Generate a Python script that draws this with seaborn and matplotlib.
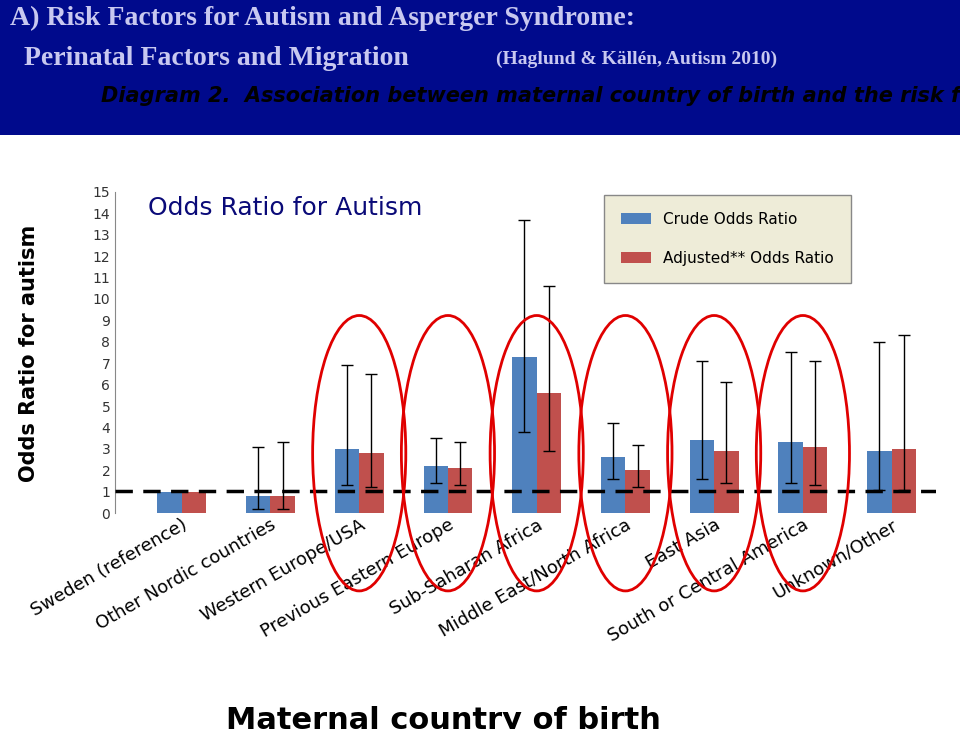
import matplotlib
matplotlib.use("Agg")
import matplotlib.pyplot as plt
import seaborn as sns
import pandas as pd
from matplotlib.patches import Ellipse, Rectangle

categories = ["Sweden (reference)", "Other Nordic countries", "Western Europe/USA",
              "Previous Eastern Europe", "Sub-Saharan Africa", "Middle East/North Africa",
              "East Asia", "South or Central America", "Unknown/Other"]
crude = [1.0, 0.8, 3.0, 2.2, 7.3, 2.6, 3.4, 3.3, 2.9]
crude_lo = [1.0, 0.2, 1.3, 1.4, 3.8, 1.6, 1.6, 1.4, 1.1]
crude_hi = [1.0, 3.1, 6.9, 3.5, 13.7, 4.2, 7.1, 7.5, 8.0]
adjusted = [1.0, 0.8, 2.8, 2.1, 5.6, 2.0, 2.9, 3.1, 3.0]
adj_lo = [1.0, 0.2, 1.2, 1.3, 2.9, 1.2, 1.4, 1.3, 1.1]
adj_hi = [1.0, 3.3, 6.5, 3.3, 10.6, 3.2, 6.1, 7.1, 8.3]
series = ["Crude Odds Ratio", "Adjusted** Odds Ratio"]
circled = [2, 3, 4, 5, 6, 7]

df = pd.DataFrame({
    "country": categories * 2,
    "series": [series[0]] * 9 + [series[1]] * 9,
    "value": crude + adjusted,
})

fig = plt.figure(figsize=(9.6, 7.29), dpi=100)
fig.patch.set_facecolor("white")
# header
fig.add_artist(Rectangle((0, 1 - 135 / 729), 1, 135 / 729, transform=fig.transFigure,
                         facecolor="#000a8c", edgecolor="none"))
fig.text(0.01, 0.975, "A) Risk Factors for Autism and Asperger Syndrome:", color="#c8c8f0",
         fontsize=20, fontweight="bold", family="Liberation Serif", va="center")
fig.text(0.025, 0.92, "Perinatal Factors and Migration", color="#c8c8f0",
         fontsize=20, fontweight="bold", family="Liberation Serif", va="center")
fig.text(0.517, 0.918, "(Haglund & Källén, Autism 2010)", color="#c8c8f0",
         fontsize=14, fontweight="bold", family="Liberation Serif", va="center")
fig.text(0.105, 0.868, "Diagram 2.  Association between maternal country of birth and the risk for autism in the offspring",
         color="black", fontsize=15, fontweight="bold", style="italic", family="DejaVu Sans Condensed",
         va="center")

ax = fig.add_axes([0.12, 0.296, 0.855, 0.441])
palette = {series[0]: "#4f81bd", series[1]: "#c0504d"}
sns.barplot(data=df, x="country", y="value", hue="series", palette=palette, ax=ax,
            width=0.55, saturation=1, errorbar=None)
lows = [crude_lo, adj_lo]
highs = [crude_hi, adj_hi]
vals = [crude, adjusted]
bar_containers = list(ax.containers)[:2]
for k, cont in enumerate(bar_containers):
    for i, p in enumerate(cont.patches):
        if i == 0:
            continue
        xc = p.get_x() + p.get_width() / 2
        ax.errorbar(xc, vals[k][i], yerr=[[vals[k][i] - lows[k][i]], [highs[k][i] - vals[k][i]]],
                    fmt="none", ecolor="black", elinewidth=1, capsize=4)
ax.axhline(1.05, color="black", lw=2.5, ls=(0, (5, 3)), zorder=5)
for i in circled:
    ax.add_patch(Ellipse((i, 2.8), 1.05, 12.85, fill=False, edgecolor="#e00000", lw=2,
                         clip_on=False, zorder=6))
ax.set_ylim(0, 15)
ax.set_xlim(-0.75, 8.5)
ax.set_yticks(range(16))
ax.tick_params(axis="y", length=0, labelsize=10, colors="#333333")
ax.tick_params(axis="x", length=0, labelsize=13, pad=2)
ax.set_xticks(range(9))
ax.set_xticklabels(categories, rotation=30, ha="right", rotation_mode="anchor")
for s in ["top", "right", "bottom"]:
    ax.spines[s].set_visible(False)
ax.spines["left"].set_color("#888888")
ax.set_xlabel("Maternal country of birth", fontsize=22, fontweight="bold", labelpad=10)
ax.xaxis.set_label_coords(0.4, -0.6)
ax.set_ylabel("")
fig.text(0.03, 0.515, "Odds Ratio for autism", rotation=90, fontsize=15, fontweight="bold",
         family="DejaVu Sans Condensed", va="center", ha="center")
ax.text(0.04, 0.95, "Odds Ratio for Autism", transform=ax.transAxes, fontsize=18,
        color="#0a0a78", va="center")
leg = ax.legend(loc="upper right", bbox_to_anchor=(0.9, 1.0), frameon=True, fontsize=11,
                labelspacing=1.6, borderpad=0.8)
leg.get_frame().set_facecolor("#eeecd8")
leg.get_frame().set_edgecolor("#888888")
leg.get_frame().set_boxstyle("square")
leg.get_frame().set_alpha(1)
fig.savefig("out.png", dpi=100)
